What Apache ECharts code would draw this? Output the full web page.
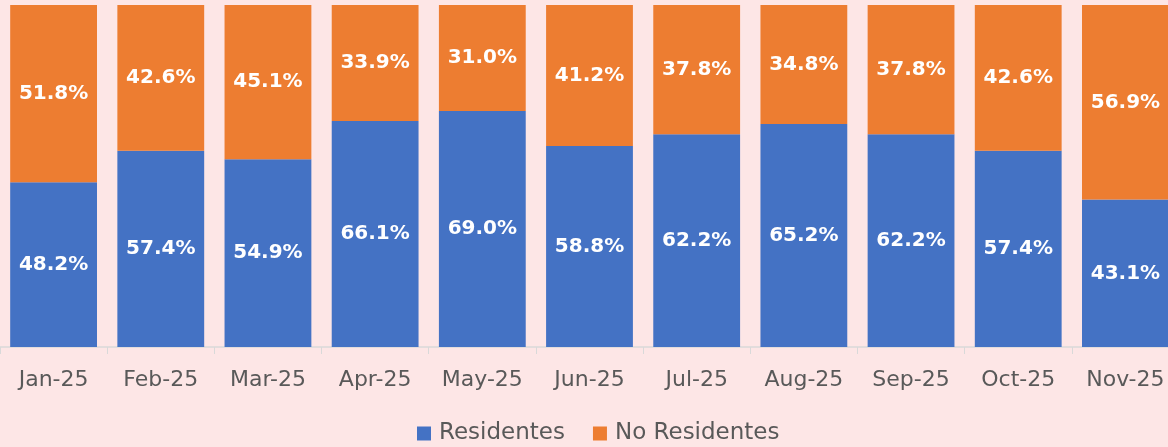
<!DOCTYPE html>
<html>
<head>
<meta charset="utf-8">
<script src="https://cdn.jsdelivr.net/npm/echarts@6/dist/echarts.min.js"></script>
<style>
  html, body { margin: 0; padding: 0; background: #FDE6E6; }
  #main { width: 1168px; height: 447px; }
</style>
</head>
<body>
<div id="main"></div>
<script>
var months = ['Jan-25', 'Feb-25', 'Mar-25', 'Apr-25', 'May-25', 'Jun-25', 'Jul-25', 'Aug-25', 'Sep-25', 'Oct-25', 'Nov-25'];
var residentes = [48.2, 57.4, 54.9, 66.1, 69.0, 58.8, 62.2, 65.2, 62.2, 57.4, 43.1];
var noResidentes = [51.8, 42.6, 45.1, 33.9, 31.0, 41.2, 37.8, 34.8, 37.8, 42.6, 56.9];

var myChart = echarts.init(document.getElementById('main'));

var barLabel = {
    show: true,
    position: 'inside',
    color: '#ffffff',
    fontWeight: 'bold',
    fontSize: 20,
    fontFamily: 'DejaVu Sans',
    formatter: function (p) { return p.value.toFixed(1) + '%'; }
};

var option = {
    backgroundColor: '#FDE6E6',
    grid: {
        left: 0,
        top: 5,
        width: 1179,
        height: 342,
        outerBoundsMode: 'none',
        containLabel: false
    },
    legend: {
        bottom: -3,
        left: 412,
        itemWidth: 14,
        itemHeight: 14,
        itemGap: 28,
        icon: 'rect',
        textStyle: {
            color: '#595959',
            fontSize: 23,
            fontFamily: 'DejaVu Sans',
            padding: [0, 0, 0, 3]
        },
        data: ['Residentes', 'No Residentes']
    },
    xAxis: {
        type: 'category',
        data: months,
        axisLine: { lineStyle: { color: '#d9d9d9', width: 1.5 } },
        axisTick: { show: true, length: 7, lineStyle: { color: '#d9d9d9' } },
        axisLabel: {
            color: '#595959',
            fontSize: 22,
            fontFamily: 'DejaVu Sans',
            margin: 22,
            interval: 0
        }
    },
    yAxis: {
        type: 'value',
        min: 0,
        max: 100,
        show: false,
        splitLine: { show: false }
    },
    series: [
        {
            name: 'Residentes',
            type: 'bar',
            stack: 'total',
            barWidth: '81%',
            itemStyle: { color: '#4472C4' },
            label: barLabel,
            data: residentes
        },
        {
            name: 'No Residentes',
            type: 'bar',
            stack: 'total',
            barWidth: '81%',
            itemStyle: { color: '#ED7D31' },
            label: barLabel,
            data: noResidentes
        }
    ]
};

myChart.setOption(option);
</script>
</body>
</html>
